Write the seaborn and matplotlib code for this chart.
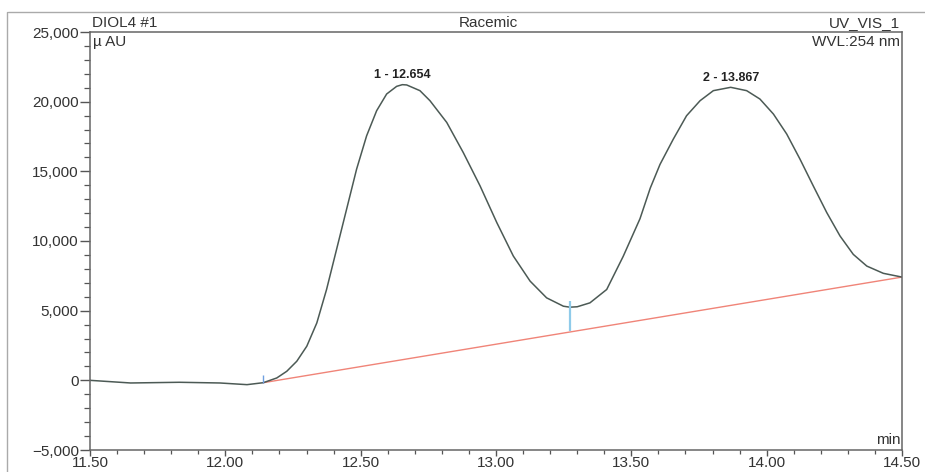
import matplotlib
matplotlib.use("Agg")
import matplotlib.pyplot as plt
import matplotlib.ticker as mticker
import seaborn as sns
import pandas as pd

sns.set_theme(style="white")
plt.rcParams["font.family"] = ["Liberation Sans", "DejaVu Sans"]

# ── Data ─────────────────────────────────────────────────────────────────────
time_min = [11.50, 11.65, 11.83, 11.98, 12.08, 12.14, 12.19, 12.227, 12.264, 12.301,
            12.338, 12.374, 12.411, 12.448, 12.485, 12.522, 12.559, 12.596, 12.633, 12.654,
            12.67, 12.719, 12.756, 12.818, 12.879, 12.941, 13.003, 13.064, 13.126, 13.187,
            13.249, 13.273, 13.30, 13.347, 13.409, 13.47, 13.532, 13.57, 13.606, 13.655,
            13.704, 13.754, 13.803, 13.867, 13.926, 13.975, 14.025, 14.074, 14.123, 14.172,
            14.222, 14.271, 14.32, 14.37, 14.431, 14.50]
signal_uau = [0, -190, -140, -190, -310, -170, 170, 650, 1370, 2450,
              4120, 6520, 9400, 12280, 15160, 17550, 19350, 20550, 21100, 21220,
              21200, 20790, 20070, 18510, 16350, 13960, 11320, 8920, 7120, 5920,
              5320, 5250, 5280, 5560, 6520, 8900, 11600, 13800, 15500, 17310,
              18990, 20070, 20790, 21030, 20790, 20190, 19110, 17680, 15880, 13960,
              12040, 10360, 9040, 8200, 7680, 7410]

baseline_t = [12.14, 14.50]
baseline_v = [-170, 7410]

peak_labels = ["1 - 12.654", "2 - 13.867"]
peak_t = [12.654, 13.867]
peak_v = [21220, 21030]

valley_t = 13.273
valley_lo, valley_hi = 3530, 5700
start_t, start_lo, start_hi = 12.14, -170, 350

df = pd.DataFrame({"time": time_min, "signal": signal_uau})
bl = pd.DataFrame({"time": baseline_t, "signal": baseline_v})

# ── Figure ───────────────────────────────────────────────────────────────────
fig = plt.figure(figsize=(9.25, 4.72), dpi=100)
ax = fig.add_axes([90 / 925, 1 - 450 / 472, 812 / 925, 418 / 472])

sns.lineplot(data=bl, x="time", y="signal", ax=ax, color="#f08478", linewidth=1.0)
sns.lineplot(data=df, x="time", y="signal", ax=ax, color="#4c5a55", linewidth=1.1)
ax.vlines(valley_t, valley_lo, valley_hi, color="#8fcbea", linewidth=1.6)
ax.vlines(start_t, start_lo, start_hi, color="#6f9fe0", linewidth=1.0)

for lab, t, v in zip(peak_labels, peak_t, peak_v):
    ax.text(t, v + 250, lab, ha="center", va="bottom", fontsize=9,
            fontweight="bold", color="#222222")

ax.set_xlim(11.5, 14.5)
ax.set_ylim(-5000, 25000)
ax.set_xlabel("")
ax.set_ylabel("")
ax.xaxis.set_major_locator(mticker.MultipleLocator(0.5))
ax.xaxis.set_minor_locator(mticker.MultipleLocator(0.1))
ax.yaxis.set_major_locator(mticker.MultipleLocator(5000))
ax.yaxis.set_minor_locator(mticker.MultipleLocator(1000))
ax.xaxis.set_major_formatter(mticker.FormatStrFormatter("%.2f"))
ax.yaxis.set_major_formatter(mticker.StrMethodFormatter("{x:,.0f}"))
ax.tick_params(axis="y", which="major", direction="out", length=7, width=1,
               color="#555555", labelsize=11, labelcolor="#333333", pad=1, left=True)
ax.tick_params(axis="y", which="minor", direction="out", length=4, width=0.9,
               color="#555555", left=True)
ax.tick_params(axis="x", which="major", direction="out", length=4, width=1,
               color="#555555", labelsize=11, labelcolor="#333333", pad=0.5, bottom=True)
ax.tick_params(axis="x", which="minor", direction="out", length=3, width=0.9,
               color="#555555", bottom=True)
for s in ax.spines.values():
    s.set_color("#666666")
    s.set_linewidth(1.1)

# header texts
ax.text(0.002, 1.005, "DIOL4 #1", transform=ax.transAxes, ha="left", va="bottom",
        fontsize=11, color="#333333")
ax.text(0.49, 1.005, "Racemic", transform=ax.transAxes, ha="center", va="bottom",
        fontsize=11, color="#333333")
ax.text(0.997, 1.005, "UV_VIS_1", transform=ax.transAxes, ha="right", va="bottom",
        fontsize=11, color="#333333")
ax.text(0.004, 0.993, "µ AU", transform=ax.transAxes, ha="left", va="top",
        fontsize=11, color="#333333")
ax.text(0.998, 0.993, "WVL:254 nm", transform=ax.transAxes, ha="right", va="top",
        fontsize=11, color="#333333")
ax.text(0.998, 0.008, "min", transform=ax.transAxes, ha="right", va="bottom",
        fontsize=11, color="#333333")

# outer frame of the printout
fig.add_artist(plt.Line2D([8 / 925, 1], [1 - 12 / 472] * 2, color="#aaaaaa", lw=1.0))
fig.add_artist(plt.Line2D([7 / 925] * 2, [0, 1 - 12 / 472], color="#aaaaaa", lw=1.0))

fig.savefig("out.png", dpi=100)
